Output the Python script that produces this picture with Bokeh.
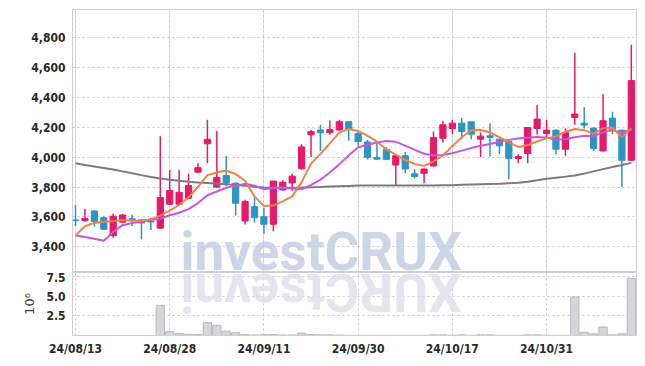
from bokeh.plotting import figure
from bokeh.layouts import column
from bokeh.models import ColumnDataSource, FixedTicker, Grid, NumeralTickFormatter, Range1d
from bokeh.embed import file_html
from bokeh.resources import INLINE
from bokeh.core.properties import value
import math

# ---------------- data ----------------
tick_pos = [0, 10, 20, 30, 40, 50]
tick_labels = ["24/08/13", "24/08/28", "24/09/11", "24/09/30", "24/10/17", "24/10/31"]
price_ticks = [3400, 3600, 3800, 4000, 4200, 4400, 4600, 4800]
vol_ticks = [2.5, 5.0, 7.5]

opens = [3580, 3575, 3640, 3595, 3475, 3565, 3588, 3580, 3570, 3525,
         3685, 3685, 3725, 3900, 4090, 3800, 3877, 3826, 3573, 3669,
         3602, 3551, 3781, 3828, 3923, 4150, 4182, 4166, 4182, 4238,
         4158, 4102, 3997, 4053, 3948, 4010, 3889, 3892, 3941, 4127,
         4192, 4228, 4237, 4121, 4143, 4121, 4105, 3991, 4024, 4192,
         4159, 4181, 4053, 4266, 4228, 4195, 4042, 4262, 4181, 3979]
closes = [3575, 3590, 3570, 3517, 3605, 3613, 3578, 3560, 3566, 3730,
          3777, 3765, 3810, 3930, 4120, 3865, 3828, 3692, 3703, 3595,
          3551, 3840, 3832, 3873, 4069, 4171, 4164, 4184, 4238, 4189,
          4105, 4000, 3987, 3986, 4010, 3921, 3871, 3921, 4131, 4217,
          4228, 4172, 4154, 4141, 4132, 4076, 3991, 4004, 4199, 4255,
          4181, 4053, 4165, 4289, 4215, 4058, 4244, 4177, 3979, 4513]
highs = [3680, 3655, 3645, 3605, 3622, 3620, 3615, 3587, 3595, 4140,
         3915, 3915, 3890, 3960, 4250, 4175, 4010, 3830, 3715, 3730,
         3660, 3842, 3846, 3889, 4087, 4182, 4218, 4245, 4250, 4240,
         4180, 4115, 4098, 4066, 4012, 4033, 3921, 3924, 4172, 4244,
         4251, 4262, 4238, 4165, 4228, 4125, 4110, 4020, 4200, 4349,
         4251, 4188, 4192, 4699, 4334, 4199, 4423, 4305, 4185, 4753]
lows = [3540, 3570, 3535, 3515, 3461, 3557, 3540, 3450, 3512, 3520,
        3680, 3680, 3720, 3893, 3960, 3795, 3805, 3610, 3550, 3562,
        3485, 3505, 3776, 3776, 3918, 4002, 4042, 4150, 4177, 4110,
        4076, 3985, 3985, 3979, 3810, 3892, 3858, 3825, 3940, 4098,
        4154, 4121, 4121, 4002, 4004, 4020, 3852, 3959, 3959, 4154,
        4136, 4020, 4009, 4217, 4192, 4042, 4040, 4154, 3802, 3975]

ma5 = [3476, 3538, 3560, 3568, 3571, 3579, 3577, 3575, 3584, 3609,
       3642, 3680, 3730, 3802, 3880, 3898, 3911, 3887, 3842, 3737,
       3674, 3676, 3704, 3738, 3833, 3957, 4022, 4092, 4165, 4189,
       4176, 4143, 4104, 4053, 4018, 3981, 3955, 3942, 3971, 4012,
       4074, 4134, 4180, 4182, 4165, 4135, 4099, 4069, 4080, 4105,
       4126, 4138, 4171, 4189, 4181, 4156, 4194, 4197, 4135, 4194]
ma10 = [3476, 3466, 3454, 3440, 3500, 3545, 3560, 3568, 3580, 3590,
        3611, 3628, 3652, 3693, 3745, 3770, 3795, 3808, 3822, 3809,
        3786, 3793, 3796, 3790, 3785, 3815, 3849, 3898, 3952, 4011,
        4067, 4083, 4098, 4109, 4103, 4078, 4049, 4023, 4012, 4015,
        4027, 4044, 4061, 4077, 4089, 4104, 4116, 4125, 4131, 4135,
        4131, 4119, 4120, 4134, 4143, 4141, 4166, 4184, 4162, 4187]
ma_long = [3960, 3948, 3938, 3928, 3918, 3905, 3893, 3880, 3868, 3858,
           3849, 3842, 3836, 3831, 3827, 3823, 3819, 3814, 3808, 3802,
           3797, 3795, 3795, 3796, 3797, 3799, 3801, 3804, 3806, 3808,
           3810, 3811, 3811, 3811, 3811, 3811, 3810, 3810, 3811, 3812,
           3813, 3815, 3817, 3819, 3821, 3823, 3826, 3829, 3836, 3845,
           3855, 3863, 3870, 3878, 3890, 3905, 3920, 3935, 3948, 3962]
volume = [0, 0, 0, 0, 0, 0, 0, 0, 0, 3.85,
          0.49, 0.28, 0.15, 0.12, 1.64, 1.30, 0.55, 0.35, 0.10, 0.06,
          0.10, 0.12, 0.06, 0.06, 0.30, 0.12, 0.08, 0.08, 0.06, 0.03,
          0.02, 0.02, 0.02, 0.02, 0.02, 0.02, 0.02, 0.03, 0.08, 0.08,
          0.03, 0.08, 0.03, 0.08, 0.08, 0.03, 0.03, 0.03, 0.08, 0.08,
          0.03, 0.03, 0.03, 4.92, 0.42, 0.21, 1.08, 0.08, 0.21, 7.29]

# ---------------- styling ----------------
RED = "#e6196a"
BLUE = "#2e94c6"
GRID = "#c3c7d9"
OUTLINE = "#cfcfd4"
LABEL_FONT = "DejaVu Sans Condensed"
LABEL_SIZE = "12px"

n = len(closes)
idx = list(range(n))
colors = [RED if c >= o else BLUE for o, c in zip(opens, closes)]
src = ColumnDataSource(dict(
    x=idx, o=opens, c=closes, h=highs, l=lows,
    top=[max(o, c) for o, c in zip(opens, closes)],
    bot=[min(o, c) for o, c in zip(opens, closes)],
    color=colors, ma5=ma5, ma10=ma10, mal=ma_long, vol=volume,
))

xr = Range1d(-0.32, 59.55)
PR_LO, PR_HI = 3228, 4989
VR_HI = 8.04

p = figure(width=637, height=272, x_range=xr, y_range=Range1d(PR_LO, PR_HI),
           x_axis_location=None, toolbar_location=None, output_backend="svg",
           min_border_left=72, min_border_right=1, min_border_top=9, min_border_bottom=0)
p.background_fill_color = "white"
p.outline_line_color = OUTLINE
p.ygrid.ticker = FixedTicker(ticks=price_ticks)
p.ygrid.grid_line_color = GRID
p.ygrid.grid_line_dash = "2 3"
xg = Grid(dimension=0, ticker=FixedTicker(ticks=tick_pos), grid_line_color=GRID, grid_line_dash="2 3")
p.add_layout(xg)

ax = p.yaxis[0]
ax.ticker = FixedTicker(ticks=price_ticks)
ax.formatter = NumeralTickFormatter(format="0,0")
ax.axis_line_color = OUTLINE
ax.major_tick_line_color = None
ax.minor_tick_line_color = None
ax.major_tick_out = 0
ax.major_label_standoff = 7
ax.major_label_text_font = LABEL_FONT
ax.major_label_text_font_style = "bold"
ax.major_label_text_font_size = LABEL_SIZE
ax.major_label_text_color = "#2a2a2a"

# watermark: upright, sitting on the panel separator
p.text(x=[11.15], y=[3362], text=["investCRUX"], text_font=value("Roboto"),
       text_font_style="bold", text_font_size="53px", text_color="#c6cee3",
       text_alpha=0.85, text_align="left", text_baseline="alphabetic")

# candles
p.segment(x0="x", y0="h", x1="x", y1="l", source=src, line_color="color", line_width=1.5)
p.vbar(x="x", top="top", bottom="bot", width=0.66, source=src,
       fill_color="color", line_color="color", line_width=1)

# moving averages
p.line(x="x", y="mal", source=src, line_color="#7b7b7b", line_width=2)
p.line(x="x", y="ma10", source=src, line_color="#c955e6", line_width=2)
p.line(x="x", y="ma5", source=src, line_color="#ee8347", line_width=2)

# ---------------- volume ----------------
v = figure(width=637, height=86, x_range=xr, y_range=Range1d(0, VR_HI),
           toolbar_location=None, output_backend="svg",
           min_border_left=72, min_border_right=1, min_border_top=0, min_border_bottom=21)
v.outline_line_color = OUTLINE
v.ygrid.ticker = FixedTicker(ticks=vol_ticks)
v.ygrid.grid_line_color = GRID
v.ygrid.grid_line_dash = "2 3"
v.xgrid.ticker = FixedTicker(ticks=tick_pos)
v.xgrid.grid_line_color = GRID
v.xgrid.grid_line_dash = "2 3"

# reflection of the watermark (upside-down, hanging below the separator)
v.text(x=[11.15], y=[5.57], text=["XURCtsevni"], text_font=value("Roboto"),
       text_font_style="bold", text_font_size="53px", text_color="#dddcea",
       text_alpha=0.75, angle=math.pi, text_align="right", text_baseline="alphabetic")

v.vbar(x="x", top="vol", width=0.88, source=src, fill_color="#d6d6da", line_color="#b9b9be", line_width=1)

vx = v.xaxis[0]
vx.ticker = FixedTicker(ticks=tick_pos)
vx.major_label_overrides = {t: s for t, s in zip(tick_pos, tick_labels)}
vx.axis_line_color = OUTLINE
vx.major_tick_line_color = None
vx.minor_tick_line_color = None
vx.major_tick_out = 0
vx.major_label_standoff = 6
vx.major_label_text_font = LABEL_FONT
vx.major_label_text_font_style = "bold"
vx.major_label_text_font_size = LABEL_SIZE
vx.major_label_text_color = "#2a2a2a"

vy = v.yaxis[0]
vy.ticker = FixedTicker(ticks=vol_ticks)
vy.formatter = NumeralTickFormatter(format="0.0")
vy.axis_line_color = OUTLINE
vy.major_tick_line_color = None
vy.minor_tick_line_color = None
vy.major_tick_out = 0
vy.major_label_standoff = 7
vy.major_label_text_font = LABEL_FONT
vy.major_label_text_font_style = "bold"
vy.major_label_text_font_size = LABEL_SIZE
vy.major_label_text_color = "#2a2a2a"
vy.axis_label = "10⁶"
vy.axis_label_text_font = "DejaVu Sans"
vy.axis_label_text_font_style = "normal"
vy.axis_label_text_font_size = "13px"
vy.axis_label_text_color = "#444444"
vy.axis_label_standoff = 6

layout = column(p, v, spacing=0)
open("out.html", "w").write(file_html(layout, INLINE))
